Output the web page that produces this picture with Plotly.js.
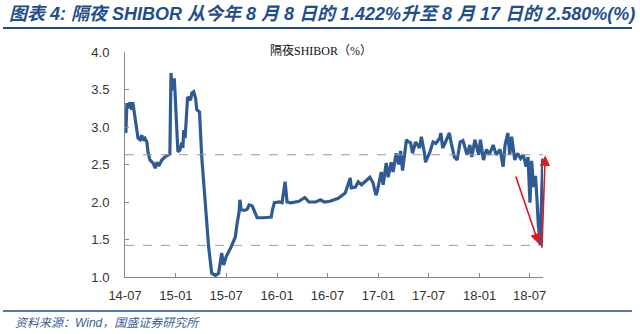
<!DOCTYPE html>
<html><head><meta charset="utf-8">
<script src="https://cdn.plot.ly/plotly-3.0.1.min.js"></script>
<style>html,body{margin:0;padding:0;background:#fff}#c{width:640px;height:334px}</style>
</head><body><div id="c"></div>
<script>
const dates = ['2014-07-04','2014-07-08','2014-07-12','2014-07-19','2014-07-25','2014-07-29','2014-08-06','2014-08-13','2014-08-17','2014-08-24','2014-08-31','2014-09-04','2014-09-11','2014-09-18','2014-09-22','2014-09-29','2014-10-10','2014-10-18','2014-10-24','2014-10-31','2014-11-11','2014-11-22','2014-12-03','2014-12-10','2014-12-14','2014-12-19','2014-12-26','2015-01-03','2015-01-08','2015-01-15','2015-01-22','2015-01-26','2015-01-29','2015-02-03','2015-02-09','2015-02-12','2015-02-23','2015-02-27','2015-03-06','2015-03-13','2015-03-17','2015-03-27','2015-04-04','2015-04-18','2015-04-29','2015-05-10','2015-05-24','2015-06-04','2015-06-15','2015-06-22','2015-07-01','2015-07-19','2015-08-03','2015-08-10','2015-08-17','2015-08-20','2015-08-24','2015-09-04','2015-09-15','2015-09-22','2015-10-03','2015-10-10','2015-10-21','2015-11-15','2015-12-11','2015-12-15','2015-12-22','2016-01-10','2016-01-19','2016-01-30','2016-02-06','2016-02-20','2016-03-20','2016-04-10','2016-04-25','2016-05-20','2016-06-05','2016-06-20','2016-07-10','2016-08-09','2016-09-03','2016-09-21','2016-09-25','2016-10-10','2016-10-20','2016-11-01','2016-11-17','2016-12-01','2016-12-12','2016-12-23','2016-12-28','2017-01-11','2017-01-18','2017-01-29','2017-02-05','2017-02-16','2017-02-23','2017-03-06','2017-03-15','2017-03-22','2017-03-29','2017-04-05','2017-04-12','2017-04-20','2017-04-27','2017-05-04','2017-05-15','2017-05-29','2017-06-05','2017-06-16','2017-06-20','2017-07-06','2017-07-17','2017-07-27','2017-08-10','2017-08-14','2017-08-21','2017-08-31','2017-09-14','2017-09-21','2017-10-02','2017-10-12','2017-10-23','2017-11-02','2017-11-17','2017-11-27','2017-12-04','2017-12-15','2017-12-22','2017-12-29','2018-01-04','2018-01-15','2018-01-26','2018-02-05','2018-02-19','2018-03-02','2018-03-16','2018-03-27','2018-04-03','2018-04-13','2018-04-20','2018-04-27','2018-05-08','2018-05-18','2018-05-29','2018-06-08','2018-06-18','2018-06-25','2018-07-02','2018-07-08','2018-07-15','2018-07-22','2018-07-27','2018-08-01','2018-08-08','2018-08-13','2018-08-17'];
const shibor = [2.92,3.32,3.25,3.33,3.23,3.33,3.13,2.93,2.85,2.83,2.89,2.82,2.85,2.8,2.67,2.56,2.52,2.45,2.53,2.48,2.56,2.6,2.63,2.64,3.72,3.49,3.65,3.0,2.67,2.69,2.79,2.72,2.96,2.85,3.27,3.4,3.36,3.45,3.47,3.38,3.23,3.2,2.6,1.99,1.4,1.05,1.02,1.05,1.32,1.16,1.27,1.4,1.53,1.72,1.87,2.03,1.9,1.89,1.9,1.96,1.95,1.89,1.79,1.79,1.8,1.89,1.99,2.0,1.99,2.27,2.0,1.99,2.01,2.06,2.0,2.0,2.03,2.0,2.01,2.05,2.12,2.32,2.19,2.2,2.27,2.23,2.29,2.33,2.26,2.09,2.15,2.4,2.23,2.52,2.33,2.53,2.4,2.65,2.5,2.68,2.42,2.62,2.83,2.8,2.79,2.65,2.8,2.72,2.87,2.65,2.53,2.67,2.8,2.78,2.85,2.92,2.72,2.8,2.92,2.78,2.6,2.56,2.8,2.82,2.63,2.76,2.6,2.83,2.73,2.63,2.83,2.56,2.7,2.63,2.76,2.63,2.7,2.47,2.76,2.92,2.63,2.87,2.56,2.65,2.58,2.63,2.47,2.6,1.99,2.55,2.2,2.35,2.05,1.7,1.422,2.2,2.58];
const tickDates = ['2014-07-01','2015-01-01','2015-07-01','2016-01-01','2016-07-01','2017-01-01','2017-07-01','2018-01-01','2018-07-01'];
const tickLabels = ['14-07','15-01','15-07','16-01','16-07','17-01','17-07','18-01','18-07'];
const refLow = 1.422, refHigh = 2.63;

const blue = '#1F4E8C';
const trace = {x: dates, y: shibor, type: 'scatter', mode: 'lines',
  line: {color: '#2F5B95', width: 3.2}, hoverinfo: 'skip'};

const layout = {
  width: 640, height: 334,
  margin: {l: 125, r: 97, t: 52, b: 57},
  paper_bgcolor: '#fff', plot_bgcolor: '#fff',
  showlegend: false,
  font: {family: 'Liberation Sans, Noto Sans CJK SC, sans-serif', color: '#333'},
  xaxis: {type: 'date', range: ['2014-07-01', '2018-08-18'], tickvals: tickDates, ticktext: tickLabels,
    ticks: 'inside', ticklen: 4, tickcolor: '#888', showline: true, linecolor: '#888', linewidth: 1,
    showgrid: false, zeroline: false, tickfont: {size: 13, color: '#333'}, ticklabelstandoff: 6},
  yaxis: {range: [1, 4], dtick: 0.5, tickformat: '.1f', ticks: 'inside', ticklen: 4, tickcolor: '#888',
    showline: true, linecolor: '#888', linewidth: 1, showgrid: false, zeroline: false,
    tickfont: {size: 13, color: '#333'}, ticklabelstandoff: 12},
  shapes: [
    {type: 'line', xref: 'paper', yref: 'y', x0: 0, x1: 1, y0: refHigh, y1: refHigh, line: {color: '#9a9a9a', width: 1, dash: 'dash'}},
    {type: 'line', xref: 'paper', yref: 'y', x0: 0, x1: 1, y0: refLow, y1: refLow, line: {color: '#9a9a9a', width: 1, dash: 'dash'}},
    {type: 'line', xref: 'paper', yref: 'paper', x0: -0.292, x1: 1.213, y0: 1.107, y1: 1.107, line: {color: blue, width: 2}},
    {type: 'line', xref: 'paper', yref: 'paper', x0: -0.292, x1: 1.213, y0: -0.151, y1: -0.151, line: {color: blue, width: 1.5}}
  ],
  annotations: [
    {xref: 'paper', yref: 'paper', x: -0.282, y: 1.17, xanchor: 'left', yanchor: 'middle', showarrow: false,
     text: '<b><i>图表 4: 隔夜 SHIBOR 从今年 8 月 8 日的 1.422%升至 8 月 17 日的 2.580%(%)</i></b>',
     font: {size: 18, color: blue, family: 'Liberation Sans, Noto Sans CJK SC, sans-serif'}},
    {xref: 'paper', yref: 'paper', x: 0.47, y: 1.005, xanchor: 'center', yanchor: 'middle', showarrow: false,
     text: '隔夜SHIBOR（%）', font: {size: 12, color: '#111', family: 'Liberation Serif, Noto Sans CJK SC, serif'}},
    {xref: 'paper', yref: 'paper', x: -0.268, y: -0.205, xanchor: 'left', yanchor: 'middle', showarrow: false,
     text: '<i>资料来源：Wind，国盛证券研究所</i>', font: {size: 12, color: '#3a5f9a', family: 'Liberation Sans, Noto Sans CJK SC, sans-serif'}},
    {xref: 'x', yref: 'y', axref: 'x', ayref: 'y', x: '2018-08-03', y: 1.44, ax: '2018-05-10', ay: 2.36,
     showarrow: true, arrowhead: 2, arrowsize: 1.3, arrowwidth: 1.6, arrowcolor: '#E3161B', text: ''},
    {xref: 'x', yref: 'y', axref: 'x', ayref: 'y', x: '2018-08-26', y: 2.62, ax: '2018-08-14', ay: 1.37,
     showarrow: true, arrowhead: 2, arrowsize: 1.3, arrowwidth: 1.6, arrowcolor: '#E3161B', text: ''}
  ]
};
Plotly.newPlot('c', [trace], layout, {staticPlot: true, displayModeBar: false});
</script></body></html>
